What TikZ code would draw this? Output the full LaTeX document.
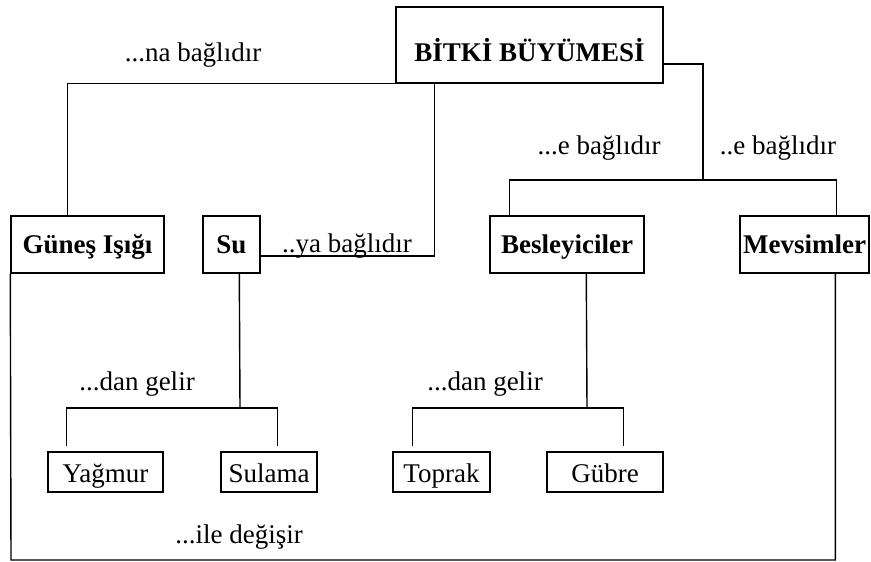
\documentclass[tikz,border=0pt]{standalone}
\usepackage{fontspec}
\setmainfont{Liberation Serif}
\begin{document}
\begin{tikzpicture}[x=1pt,y=-1pt
,pstyle0/.style={draw=black,line width=1.4pt,inner sep=0,minimum height=57pt,text height=20pt,text depth=3pt,font=\fontsize{27}{32}\selectfont\bfseries}
,pstyle1/.style={draw=black,line width=1.4pt,inner sep=0,minimum height=40pt,text height=22pt,text depth=2pt,font=\fontsize{27}{32}\selectfont}
,pstyle2/.style={color=black,line width=1.4pt}
,pstyle3/.style={anchor=base,inner sep=0,font=\fontsize{27}{32}\selectfont}
]
\useasboundingbox (0,0) rectangle (871,562);
\node[pstyle0,minimum width=267pt,minimum height=76pt,text height=34pt,text depth=2pt] (buyume) at (529.5,45) {BİTKİ BÜYÜMESİ};
\node[pstyle0,minimum width=153pt] (gunes) at (87.5,244.5) {Güneş Işığı};
\node[pstyle0,minimum width=57pt] (su) at (231.5,244.5) {Su};
\node[pstyle0,minimum width=154pt] (besin) at (567,244.5) {Besleyiciler};
\node[pstyle0,minimum width=129pt] (mevsim) at (804.5,244.5) {Mevsimler};
\node[pstyle1,minimum width=115pt] (yagmur) at (105.5,472) {Yağmur};
\node[pstyle1,minimum width=96pt] (sulama) at (269,472) {Sulama};
\node[pstyle1,minimum width=97pt] (toprak) at (441.5,472) {Toprak};
\node[pstyle1,minimum width=116pt] (gubre) at (605,472) {Gübre};
\coordinate (catal0) at (703,180);
\coordinate (catal1) at (240,408);
\coordinate (catal2) at (587,408);
\coordinate (dongu) at (11,560);
\node[pstyle3] (lbl0) at (193,61) {...na bağlıdır};
\node[pstyle3] (lbl1) at (347,252) {..ya bağlıdır};
\node[pstyle3] (lbl2) at (599,154) {...e bağlıdır};
\node[pstyle3] (lbl3) at (778,154) {..e bağlıdır};
\node[pstyle3] (lbl4) at (137,390) {...dan gelir};
\node[pstyle3] (lbl5) at (485,390) {...dan gelir};
\node[pstyle3] (lbl6) at (239,543) {...ile değişir};
\draw[pstyle2] (buyume.south west) -| ([xshift=57pt]gunes.north west);
\draw[pstyle2] ([xshift=39pt]buyume.south west) |- ([yshift=-11.5pt]su.east);
\draw[pstyle2] ([yshift=-19pt]buyume.east) -| (catal0);
\draw[pstyle2] ([xshift=20pt]besin.north west) |- (catal0) -| ([xshift=97pt]mevsim.north west);
\draw[pstyle2] ([xshift=37pt]su.south west) -- (catal1);
\draw[pstyle2] ([xshift=19pt,yshift=5pt]yagmur.north west) |- (catal1) -| ([xshift=57pt,yshift=5pt]sulama.north west);
\draw[pstyle2] ([xshift=97pt]besin.south west) -- (catal2);
\draw[pstyle2] ([xshift=20pt,yshift=5pt]toprak.north west) |- (catal2) -| ([xshift=77pt,yshift=5pt]gubre.north west);
\draw[pstyle2] (gunes.south west) -- (dongu) -| ([xshift=96pt]mevsim.south west);
\end{tikzpicture}
\end{document}
